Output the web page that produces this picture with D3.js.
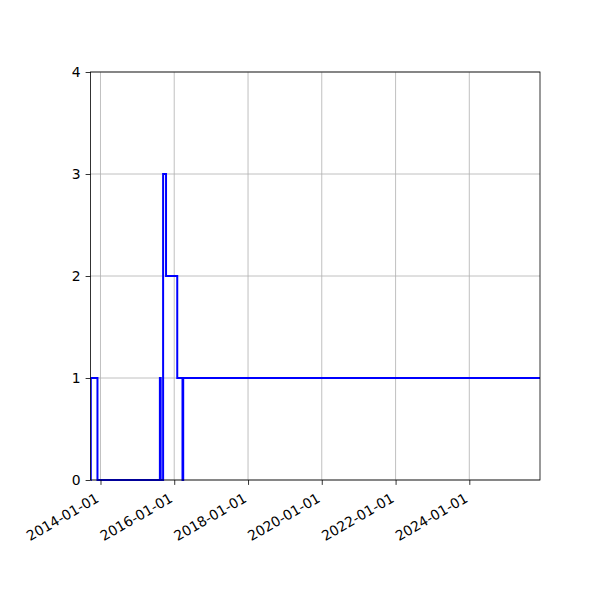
<!DOCTYPE html>
<html><head><meta charset="utf-8">
<script src="https://cdn.jsdelivr.net/npm/d3@7"></script>
<style>body{margin:0;background:#fff}svg{display:block}text{font-family:"DejaVu Sans",sans-serif;font-size:13.9px;fill:#000}</style>
</head><body><svg id="c" width="600" height="600"></svg>
<script>
const stepDates = ["2013-09-25","2013-09-27","2013-12-02","2015-08-12","2015-08-20","2015-09-13","2015-10-12","2016-01-31","2016-03-23","2016-03-30","2025-12-01"];
const stepValues = [0,1,0,1,0,3,2,1,0,1,1];
const xDomain = ["2013-09-24","2025-12-01"];
const xTickLabels = ["2014-01-01","2016-01-01","2018-01-01","2020-01-01","2022-01-01","2024-01-01"];
const yTicks = [0,1,2,3,4];

const L=90.5,R=540,T=72,B=480;
const svg=d3.select("#c");
const x=d3.scaleUtc().domain(xDomain.map(s=>new Date(s+"T00:00:00Z"))).range([L,R]);
const y=d3.scaleLinear().domain([0,4]).range([B,T]);
const tickDates=xTickLabels.map(s=>new Date(s+"T00:00:00Z"));
const data=stepDates.map((d,i)=>({d:new Date(d+"T00:00:00Z"),v:stepValues[i]}));

// grid
svg.append("g").selectAll("line").data(tickDates).join("line")
 .attr("x1",d=>x(d)).attr("x2",d=>x(d)).attr("y1",T).attr("y2",B)
 .attr("stroke","#b0b0b0").attr("stroke-width",0.8);
svg.append("g").selectAll("line").data(yTicks).join("line")
 .attr("x1",L).attr("x2",R).attr("y1",d=>y(d)).attr("y2",d=>y(d))
 .attr("stroke","#b0b0b0").attr("stroke-width",0.8);

svg.append("defs").append("clipPath").attr("id","clip").append("rect")
 .attr("x",L).attr("y",T-2).attr("width",R-L).attr("height",B-T+4);

const line=d3.line().x(d=>x(d.d)).y(d=>y(d.v)).curve(d3.curveStepAfter);
svg.append("path").datum(data).attr("d",line).attr("fill","none")
 .attr("stroke","#0000ff").attr("stroke-width",2).attr("clip-path","url(#clip)");

// axes
const xa=svg.append("g").attr("transform",`translate(0,${B})`)
 .call(d3.axisBottom(x).tickValues(tickDates).tickSize(4.9).tickFormat((d,i)=>xTickLabels[i]));
xa.select(".domain").remove();
xa.selectAll("line").attr("stroke","#000").attr("stroke-width",0.8);
xa.selectAll("text").attr("text-anchor","end").attr("dy",null).attr("y",null).attr("x",null)
 .attr("font-size","13.9px").attr("font-family","DejaVu Sans")
 .attr("transform","translate(-1,21) rotate(-30)");

const ya=svg.append("g").attr("transform",`translate(${L},0)`)
 .call(d3.axisLeft(y).tickValues(yTicks).tickSize(4.9).tickPadding(4.9).tickFormat(d3.format("d")));
ya.select(".domain").remove();
ya.selectAll("line").attr("stroke","#000").attr("stroke-width",0.8);
ya.selectAll("text").attr("font-size","13.9px").attr("font-family","DejaVu Sans");

svg.append("rect").attr("x",L).attr("y",T).attr("width",R-L).attr("height",B-T)
 .attr("fill","none").attr("stroke","#000").attr("stroke-width",0.8);
</script></body></html>
